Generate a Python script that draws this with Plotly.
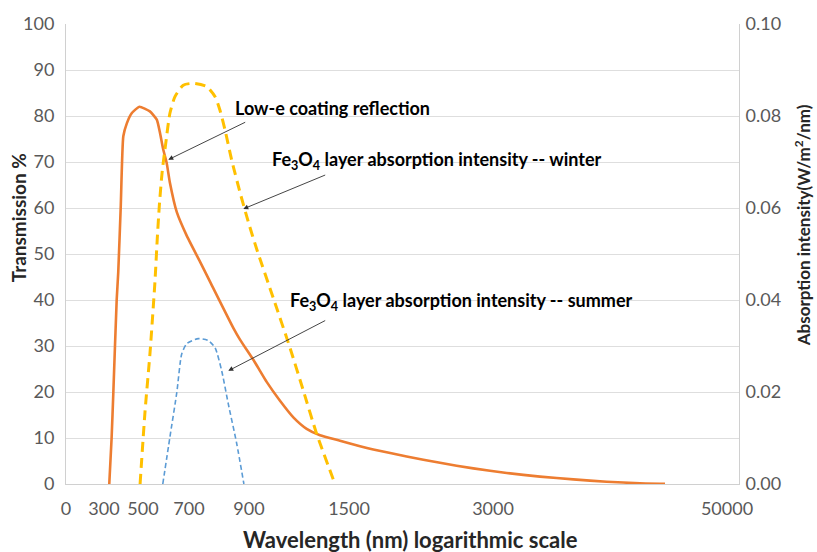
import numpy as np
import plotly.graph_objects as go

# ---------------- data ----------------
# x axis: labelled wavelengths and their place along the (non-uniform) axis
TICK_WL = [0, 300, 500, 700, 900, 1500, 3000, 50000]
TICK_LABELS = ["0", "300", "500", "700", "900", "1500", "3000", "50000"]

# Low-e coating reflection (Transmission %, left axis)
lowe_wl = [327, 339, 348, 365, 373, 386, 399, 417, 442, 481, 530, 560, 574, 588,
           603, 617, 647, 690, 737, 770, 848, 870, 926, 966, 1006, 1086, 1166,
           1246, 1326, 1446, 1615, 1753, 2101, 2448, 2795, 5752, 12440, 19128,
           25837, 32525, 37547]
lowe_val = [0, 10, 20, 40, 46, 60.5, 75.6, 78.4, 80.6, 82.0, 81.0, 79.2, 76.3, 72.7,
            69.8, 65.5, 59.1, 54.0, 48.3, 44.0, 33.9, 31.4, 27.0, 24.6, 22.2, 18.1,
            14.5, 12.0, 10.6, 9.4, 8.2, 7.5, 6.0, 4.6, 3.4, 2.4, 1.6, 1.0,
            0.5, 0.15, 0.05]

# Fe3O4 absorption intensity - winter (W/m2/nm, right axis)
winter_wl = [485, 509, 530, 552, 562, 571, 583, 599, 617, 639, 675, 714, 759, 787,
             803, 820, 842, 870, 898, 946, 1046, 1146, 1226, 1306, 1416]
winter_val = [0, 0.0159, 0.0282, 0.0440, 0.0533, 0.0605, 0.0677, 0.0741, 0.0806,
              0.0842, 0.0867, 0.0871, 0.0864, 0.0842, 0.0813, 0.0770, 0.0705,
              0.0634, 0.0569, 0.0511, 0.0404, 0.0296, 0.0203, 0.0109, 0]

# Fe3O4 absorption intensity - summer (W/m2/nm, right axis)
summer_wl = [586, 617, 647, 668, 690, 731, 764, 787, 809, 831, 859, 883]
summer_val = [0, 0.0102, 0.0199, 0.0282, 0.0305, 0.0316, 0.0312, 0.0296, 0.0246,
              0.0174, 0.0088, 0]

# ---------------- axis scale ----------------
TICK_POS = [0, 38, 77, 123, 183, 283, 427, 661]   # layout of the labelled ticks
X_RANGE = [0, 673]


def to_axis(wl):
    return np.interp(np.asarray(wl, dtype=float), TICK_WL, TICK_POS)


FONT = "Lato"
GRAY = "#595959"

fig = go.Figure()
fig.add_trace(go.Scatter(x=to_axis(lowe_wl), y=lowe_val, mode="lines",
                         line=dict(color="#ED7D31", width=2.6, shape="spline", smoothing=0.5),
                         name="Low-e coating reflection"))
fig.add_trace(go.Scatter(x=to_axis(winter_wl), y=winter_val, mode="lines", yaxis="y2",
                         line=dict(color="#FFC000", width=3, dash="10px,6px",
                                   shape="spline", smoothing=0.6),
                         name="winter"))
fig.add_trace(go.Scatter(x=to_axis(summer_wl), y=summer_val, mode="lines", yaxis="y2",
                         line=dict(color="#5B9BD5", width=1.6, dash="5px,3px",
                                   shape="spline", smoothing=0.6),
                         name="summer"))

fig.update_layout(
    width=817, height=552,
    margin=dict(l=66, r=78, t=20, b=68),
    paper_bgcolor="white", plot_bgcolor="white",
    showlegend=False,
    font=dict(family=FONT, color=GRAY, size=18),
    xaxis=dict(range=X_RANGE, tickvals=TICK_POS, ticktext=TICK_LABELS,
               showgrid=False, zeroline=False, showline=True, linecolor="#D0D0D0",
               linewidth=1, ticks="", ticklabelstandoff=8,
               tickfont=dict(family=FONT, size=18, color=GRAY)),
    yaxis=dict(range=[0, 100], dtick=10, showgrid=True, gridcolor="#DEDEDE",
               zeroline=False, showline=True, linecolor="#D0D0D0", ticks="",
               ticklabelstandoff=7,
               tickfont=dict(family=FONT, size=18, color=GRAY)),
    yaxis2=dict(range=[0, 0.1], dtick=0.02, tickformat=".2f", overlaying="y",
                side="right", showgrid=False, zeroline=False, showline=True,
                linecolor="#D0D0D0", ticks="", ticklabelstandoff=2,
                tickfont=dict(family=FONT, size=18, color=GRAY)),
)

ann_font = dict(family=FONT, size=18, color="black")

# arrows
arrows = [((102.3, 70.5), (180.7, 78.8)),
          ((177.3, 59.8), (260.7, 67.3)),
          ((162.3, 24.6), (260.7, 35.7))]
for (hx, hy), (tx, ty) in arrows:
    fig.add_annotation(x=hx, y=hy, ax=tx, ay=ty, xref="x", yref="y", axref="x",
                       ayref="y", text="", showarrow=True, arrowhead=2,
                       arrowsize=1.1, arrowwidth=0.9, arrowcolor="#303030")

texts = [("<b>Low-e coating reflection</b>", 167, 81.7),
         ("<b>Fe<sub>3</sub>O<sub>4</sub> layer absorption intensity -- winter</b>", 204, 70.3),
         ("<b>Fe<sub>3</sub>O<sub>4</sub> layer absorption intensity -- summer</b>", 222, 39.7)]
for t, x, y in texts:
    fig.add_annotation(x=x, y=y, xref="x", yref="y", text=t, showarrow=False,
                       xanchor="left", yanchor="middle", font=ann_font)

# axis titles (placed in pixels, converted to paper coordinates)
W, H = 817, 552
L, R, T, B = 66, 78, 20, 68
pw, ph = W - L - R, H - T - B


def px(x, y):
    return (x - L) / pw, (H - B - y) / ph


for text, (x, y), ang, size in [
        ("<b>Wavelength (nm) logarithmic scale</b>", (410, 540), 0, 22),
        ("<b>Transmission %</b>", (18, 216), -90, 19),
        ("<b>Absorption intensity(W/m<sup>2</sup>/nm)</b>", (802, 223), -90, 17)]:
    xp, yp = px(x, y)
    fig.add_annotation(x=xp, y=yp, xref="paper", yref="paper", text=text,
                       showarrow=False, textangle=ang, xanchor="center",
                       yanchor="middle",
                       font=dict(family=FONT, size=size, color="#262626"))

fig.write_html("out.html")
